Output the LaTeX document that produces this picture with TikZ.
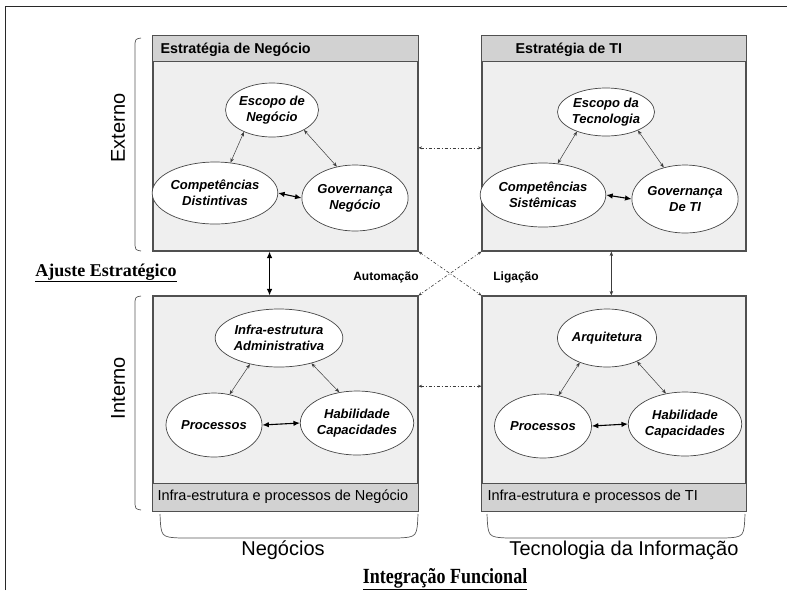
\documentclass[tikz,border=0pt]{standalone}
\usepackage{fontspec}
\usepackage{graphicx}
\setmainfont{Liberation Sans}
\newfontfamily\titleserif{Liberation Serif}
\usetikzlibrary{shapes.geometric,arrows.meta,calc}

\definecolor{boxline}{RGB}{80,80,80}
\definecolor{bodygray}{RGB}{239,239,239}
\definecolor{hdrgray}{RGB}{210,210,210}
\definecolor{ellline}{RGB}{70,70,70}
\definecolor{arrgray}{RGB}{60,60,60}
\definecolor{framecol}{RGB}{40,40,40}

\begin{document}
\begin{tikzpicture}[x=1pt,y=-1pt,
  panel/.style={draw=boxline,line width=1.1pt,fill=bodygray,minimum height=215pt,inner sep=0pt},
  band/.style={draw=boxline,line width=1.1pt,fill=hdrgray},
  ell/.style={ellipse,draw=ellline,fill=white,line width=0.7pt,inner sep=0pt,align=center,
    font=\fontsize{13}{16}\selectfont\bfseries\itshape},
  thinarrow/.style={{Stealth[length=4.5pt,width=3.5pt]}-{Stealth[length=4.5pt,width=3.5pt]},line width=0.5pt,draw=arrgray},
  boldarrow/.style={{Latex[length=6.5pt,width=5.5pt]}-{Latex[length=6.5pt,width=5.5pt]},line width=1.1pt,draw=black},
  dashdot/.style={{Stealth[length=3.5pt,width=3pt]}-{Stealth[length=3.5pt,width=3pt]},line width=0.6pt,
    draw=arrgray,dash pattern=on 3pt off 2pt on 1pt off 2pt},
  headtxt/.style={anchor=west,font=\fontsize{14.3}{16}\selectfont\bfseries},
  foottxt/.style={anchor=west,font=\fontsize{14.5}{16}\selectfont},
  sidetxt/.style={font=\fontsize{20}{24}\selectfont},
  midtxt/.style={font=\fontsize{12}{14}\selectfont\bfseries},
  seriftitle/.style={anchor=base,font=\titleserif\bfseries\fontsize{18}{22}\selectfont},
  bracket/.style={draw=gray!70!black,line width=0.7pt}
]
\useasboundingbox (0,0) rectangle (787,590);

% outer frame (left and top edges)
\draw[framecol,line width=0.8pt] (5,590) -- (5,6) -- (787,6);

% the four panels
\node[panel,minimum width=265pt] (tl) at (285.5,143.5) {};
\node[panel,minimum width=264pt] (tr) at (614,143.5) {};
\node[panel,minimum width=265pt] (bl) at (285.5,403.5) {};
\node[panel,minimum width=264pt] (br) at (614,403.5) {};

% header and footer bands
\draw[band] (tl.north west) rectangle ($(tl.north east)+(0,26)$);
\draw[band] (tr.north west) rectangle ($(tr.north east)+(0,26)$);
\draw[band] ($(bl.south west)+(0,-28)$) rectangle (bl.south east);
\draw[band] ($(br.south west)+(0,-28)$) rectangle (br.south east);

\node[headtxt] (htl) at (157,50) {Estratégia de Negócio};
\node[headtxt] (htr) at (512,50) {Estratégia de TI};
\node[foottxt] (fbl) at (154,497) {Infra-estrutura e processos de Negócio};
\node[foottxt] (fbr) at (484,497) {Infra-estrutura e processos de TI};

% business strategy
\node[ell,minimum width=88pt,minimum height=54pt] (escTL) at (272,110) {Escopo de\\Negócio};
\node[ell,minimum width=97pt,minimum height=62pt] (compTL) at (215,193) {Competências\\Distintivas};
\node[ell,minimum width=93pt,minimum height=66pt] (govTL) at (355,198) {Governança\\Negócio};
\draw[thinarrow] (escTL.218) -- (compTL.63);
\draw[thinarrow] (escTL.328) -- (govTL.120);
\draw[boldarrow] (compTL.east) -- (govTL.west);

% IT strategy
\node[ell,minimum width=97pt,minimum height=48pt] (escTR) at (606,112) {Escopo da\\Tecnologia};
\node[ell,minimum width=99pt,minimum height=64pt] (compTR) at (543,195) {Competências\\Sistêmicas};
\node[ell,minimum width=96pt,minimum height=68pt] (govTR) at (685,199) {Governança\\De TI};
\draw[thinarrow] (escTR.214) -- (compTR.65);
\draw[thinarrow] (escTR.330) -- (govTR.124);
\draw[boldarrow] (compTR.east) -- (govTR.west);

% business infrastructure
\node[ell,minimum width=98pt,minimum height=58pt] (infBL) at (279,338) {Infra-estrutura\\Administrativa};
\node[ell,minimum width=96pt,minimum height=64pt] (procBL) at (214,425) {Processos};
\node[ell,minimum width=99pt,minimum height=64pt] (habBL) at (357,423) {Habilidade\\Capacidades};
\draw[thinarrow] (infBL.222) -- (procBL.63);
\draw[thinarrow] (infBL.322) -- (habBL.120);
\draw[boldarrow] (procBL.east) -- (habBL.west);

% IT infrastructure
\node[ell,minimum width=98pt,minimum height=58pt] (arqBR) at (607,338) {Arquitetura};
\node[ell,minimum width=97pt,minimum height=64pt] (procBR) at (543,426) {Processos};
\node[ell,minimum width=99pt,minimum height=64pt] (habBR) at (685,424) {Habilidade\\Capacidades};
\draw[thinarrow] (arqBR.222) -- (procBR.63);
\draw[thinarrow] (arqBR.322) -- (habBR.122);
\draw[boldarrow] (procBR.east) -- (habBR.west);

% links between panels
\draw[boldarrow] ($(tl.south west)!0.44!(tl.south east)$) -- ($(bl.north west)!0.44!(bl.north east)$);
\draw[thinarrow] ($(tr.south west)!0.49!(tr.south east)$) -- ($(br.north west)!0.49!(br.north east)$);
\draw[dashdot] ($(tl.north east)!0.52!(tl.south east)$) -- ($(tr.north west)!0.52!(tr.south west)$);
\draw[dashdot] ($(bl.north east)!0.42!(bl.south east)$) -- ($(br.north west)!0.42!(br.south west)$);
\draw[dashdot] (tl.south east) -- (br.north west);
\draw[dashdot] (tr.south west) -- (bl.north east);

\node[midtxt] (auto) at (386,277) {Automação};
\node[midtxt] (lig) at (516,277) {Ligação};

% side brackets and labels
\draw[bracket] (141,38) .. controls (135,39) .. (135,48) -- (135,240) .. controls (135,250) .. (141,251);
\draw[bracket] (141,296) .. controls (135,297) .. (135,306) -- (135,499) .. controls (135,509) .. (141,510);
\node[sidetxt,rotate=90] (ext) at (118,128) {Externo};
\node[sidetxt,rotate=90] (int) at (118,388) {Interno};
\node[seriftitle] (ajuste) at (106,276) {\underline{Ajuste Estratégico}};

% bottom brackets and labels
\draw[bracket] (160,514) .. controls (161,537) .. (180,538) -- (398,538) .. controls (417,537) .. (418,514);
\draw[bracket] (487,514) .. controls (488,537) .. (507,538) -- (725,538) .. controls (744,537) .. (745,514);
\node[sidetxt,anchor=base] (neg) at (283,555) {Negócios};
\node[sidetxt,anchor=base] (tec) at (624,555) {Tecnologia da Informação};
\node[seriftitle] (integ) at (445,583) {\scalebox{1}[1.2]{\underline{Integração Funcional}}};
\end{tikzpicture}
\end{document}
